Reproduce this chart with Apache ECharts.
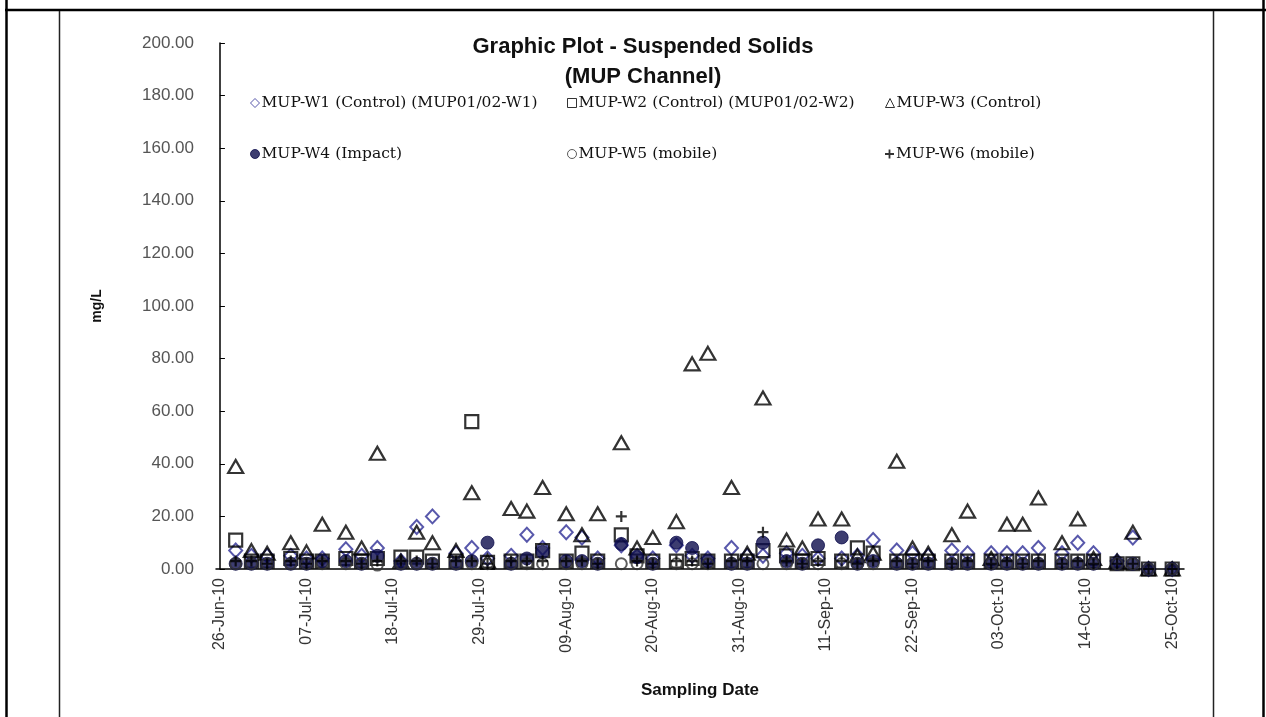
<!DOCTYPE html>
<html><head><meta charset="utf-8">
<script src="https://cdn.jsdelivr.net/npm/echarts@6/dist/echarts.min.js"></script>
<style>html,body{margin:0;padding:0;background:#fff}#c{width:1266px;height:717px}</style>
</head><body><div id="c"></div>
<script>
// Sampling dates (2010)
const dates = ['2010-06-28','2010-06-30','2010-07-02','2010-07-05','2010-07-07','2010-07-09','2010-07-12','2010-07-14','2010-07-16',
'2010-07-19','2010-07-21','2010-07-23','2010-07-26','2010-07-28','2010-07-30','2010-08-02','2010-08-04','2010-08-06',
'2010-08-09','2010-08-11','2010-08-13','2010-08-16','2010-08-18','2010-08-20','2010-08-23','2010-08-25','2010-08-27',
'2010-08-30','2010-09-01','2010-09-03','2010-09-06','2010-09-08','2010-09-10','2010-09-13','2010-09-15','2010-09-17',
'2010-09-20','2010-09-22','2010-09-24','2010-09-27','2010-09-29','2010-10-02','2010-10-04','2010-10-06','2010-10-08',
'2010-10-11','2010-10-13','2010-10-15','2010-10-18','2010-10-20','2010-10-22','2010-10-25'];
// MUP-W1 (Control) (MUP01/02-W1)
const w1 = [7,5,5,5,4,4,7.5,5,8, 3,16,20,6,8,4,5,13,8, 14,12,4,9,5,4,9,5,4, 8,5,5,6,5,4,4,5,11, 7,6,5,7,6,6,6,6,8, 6,10,6,3,12,0,0];
// MUP-W2 (Control) (MUP01/02-W2)
const w2 = [11,3,3,4,3,3,4,3,4, 4.5,4.5,3,3,56,2.5,3,3,7, 3,6,3,13,5,3,3,4,3, 3,3,7,5,3,4,3,8,6, 3,3,3,3,3,3,3,3,3, 3,3,3,2,2,0,0];
// MUP-W3 (Control)
const w3 = [39,7,6,10,6.5,17,14,8,44, 3,14,10,7,29,3,23,22,31, 21,13,21,48,8,12,18,78,82, 31,6,65,11,8,19,19,5,6, 41,8,6,13,22,4,17,17,27, 10,19,4,3,14,0,0];
// MUP-W4 (Impact)
const w4 = [2,2,2,2,2,3,3,2,5, 2,2,2,2,3,10,2,4,6.5, 3,3,2,9.5,4.5,2,10,8,3, 2,2,10,3,2,9,12,2,3, 2,2,2,2,2,2,2,2,2, 2,2,2,2,2,0,0];
// MUP-W5 (mobile)
const w5 = [2,2,2,2,2,2,2,2,1.5, 2,2,2,2,2,2,2,2,2, 2,2,2,2,2,2,2,2,2, 2,2,2,2,2,2,2,2,2, 2,2,2,2,2,2,2,2,2, 2,2,2,2,2,0,0];
// MUP-W6 (mobile)
const w6 = [3,3,2,3,2,3,3,2,3, 3,3,2,3,3,2,3,3,3, 3,3,2,20,3,2,3,3,2, 3,3,14,3,2,3,3,2,3, 3,2,3,2,3,2,3,2,3, 2,3,2,2,2,0,0];
// Axis ticks
const tickDays = [0,11,22,33,44,55,66,77,88,99,110,121];
const yTicks = [0,20,40,60,80,100,120,140,160,180,200];

const names = ['MUP-W1 (Control) (MUP01/02-W1)','MUP-W2 (Control) (MUP01/02-W2)','MUP-W3 (Control)',
               'MUP-W4 (Impact)','MUP-W5 (mobile)','MUP-W6 (mobile)'];
const base = Date.UTC(2010,5,26);
const dayOf = s => { const p = s.split('-'); return (Date.UTC(+p[0], +p[1]-1, +p[2]) - base)/864e5; };
const mon = ['Jan','Feb','Mar','Apr','May','Jun','Jul','Aug','Sep','Oct','Nov','Dec'];
const fmtDay = d => { const t = new Date(base + d*864e5); const dd = String(t.getUTCDate()).padStart(2,'0'); return dd+'-'+mon[t.getUTCMonth()]+'-10'; };
const pts = arr => dates.map((s,i)=>[dayOf(s), arr[i]]);

const plus = 'path://M4,0H6V4H10V6H6V10H4V6H0V4H4Z';
const styles = [
  {symbol:'diamond', size:[13,14], item:{color:'transparent', borderColor:'#2e2e96', borderWidth:2}},
  {symbol:'rect', size:13, item:{color:'transparent', borderColor:'#000', borderWidth:2.2}},
  {symbol:'triangle', size:[15,13], item:{color:'transparent', borderColor:'#000', borderWidth:2.2}},
  {symbol:'circle', size:13, item:{color:'#0c0c4c', borderColor:'#0c0c4c', borderWidth:1}},
  {symbol:'circle', size:11, item:{color:'transparent', borderColor:'#333', borderWidth:2}},
  {symbol:plus, size:11, item:{color:'#000'}}
];
const arrs = [w1,w2,w3,w4,w5,w6];
const series = arrs.map((a,i)=>({
  name:names[i], type:'scatter', data:pts(a), symbol:styles[i].symbol, symbolSize:styles[i].size,
  itemStyle:styles[i].item, z: 2+i
}));

const legendPos = [[245,90],[562,90],[880,90],[245,141],[562,141],[880,141]];
const legends = names.map((n,i)=>({
  data:[n], left:legendPos[i][0], top:legendPos[i][1], itemWidth:9, itemHeight:9, itemGap:2,
  textStyle:{fontFamily:'DejaVu Serif', fontSize:15.5, color:'#111', padding:[0,0,0,-3]},
  itemStyle:{borderWidth:1}, selectedMode:false
}));

const chart = echarts.init(document.getElementById('c'), null, {renderer:'canvas'});
chart.setOption({
  animation:false,
  backgroundColor:'#fff',
  title:{text:'Graphic Plot - Suspended Solids\n(MUP Channel)', left:638, top:27, textAlign:'center',
    textStyle:{fontFamily:'Liberation Sans', fontWeight:'bold', fontSize:22, lineHeight:30, color:'#111'}},
  legend:legends,
  grid:{left:216, right:82, top:43, bottom:148},
  xAxis:{type:'value', min:-0.5, max:122.5, name:'Sampling Date', nameLocation:'middle', nameGap:113,
    nameTextStyle:{fontFamily:'Liberation Sans', fontWeight:'bold', fontSize:17, color:'#111'},
    axisLine:{lineStyle:{color:'#000', width:1.5}}, axisTick:{show:false}, splitLine:{show:false},
    axisLabel:{customValues:tickDays, rotate:90, margin:9, formatter:v=>fmtDay(v),
      fontFamily:'Liberation Sans', fontSize:16, color:'#333'}},
  yAxis:{type:'value', min:yTicks[0], max:yTicks[yTicks.length-1], interval:20, name:'mg/L', nameLocation:'middle', nameGap:112,
    nameTextStyle:{fontFamily:'Liberation Sans', fontWeight:'bold', fontSize:14, color:'#111'},
    axisLine:{show:true, lineStyle:{color:'#000', width:1.5}}, axisTick:{show:true, inside:true, length:5, lineStyle:{color:'#000'}},
    splitLine:{show:false},
    axisLabel:{margin:22, formatter:v=>v.toFixed(2), fontFamily:'Liberation Sans', fontSize:17, color:'#555'}},
  series:series,
  graphic:[
    {type:'line', shape:{x1:5,y1:10,x2:1266,y2:10}, style:{stroke:'#000', lineWidth:2.5}, silent:true},
    {type:'line', shape:{x1:6.5,y1:0,x2:6.5,y2:717}, style:{stroke:'#000', lineWidth:2.5}, silent:true},
    {type:'line', shape:{x1:1263.5,y1:0,x2:1263.5,y2:717}, style:{stroke:'#000', lineWidth:2.5}, silent:true},
    {type:'line', shape:{x1:59.5,y1:11,x2:59.5,y2:717}, style:{stroke:'#222', lineWidth:1.5}, silent:true},
    {type:'line', shape:{x1:1213.5,y1:11,x2:1213.5,y2:717}, style:{stroke:'#222', lineWidth:1.5}, silent:true}
  ]
});
</script></body></html>
